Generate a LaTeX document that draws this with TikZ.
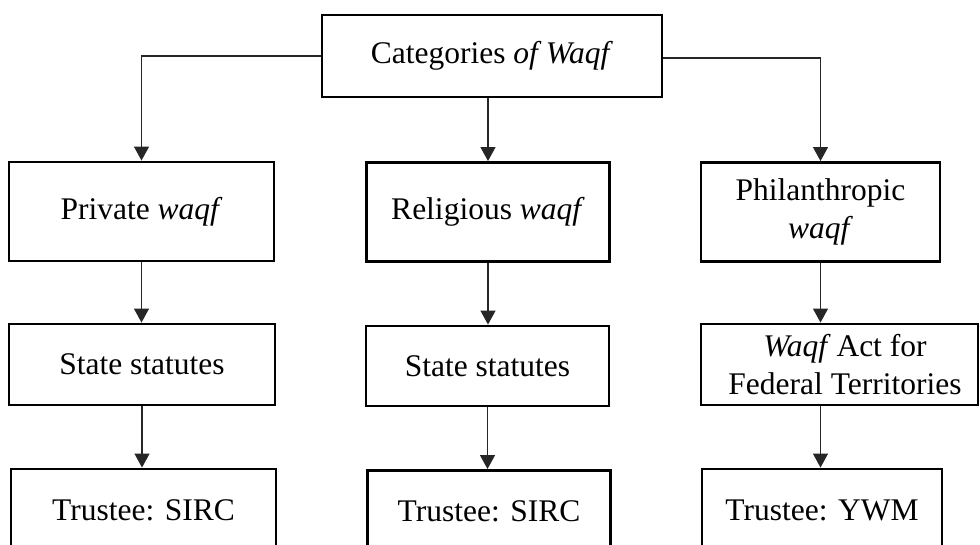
\documentclass[tikz,border=0pt]{standalone}
\usepackage{fontspec}
\setmainfont{Liberation Serif}
\usetikzlibrary{arrows.meta}
\begin{document}
\begin{tikzpicture}[x=1pt,y=-1pt,
  box/.style={draw=black,line width=2.9pt,rectangle,inner sep=0pt,
    align=center,font=\fontsize{31.5}{37.5}\selectfont},
  link/.style={draw=black!85,line width=1.3pt,
    -{Triangle[length=14pt,width=15pt]}}]
\useasboundingbox (0,0) rectangle (980,545);
\clip (0,0) rectangle (980,545);
% root
\node[box,minimum width=340pt,minimum height=82pt] (root) at (492,56)
  {Categories \textit{of Waqf}};
% categories
\node[box,minimum width=265pt,minimum height=99pt] (priv) at (141.5,211.5)
  {Private \textit{waqf}};
\node[box,minimum width=243pt,minimum height=99pt] (reli) at (488,212)
  {Religious \textit{waqf}};
\node[box,minimum width=239pt,minimum height=99pt] (phil) at (820.5,212)
  {Philanthropic\\\textit{waqf}};
% legislation
\node[box,minimum width=266pt,minimum height=81pt] (law1) at (142,364.5)
  {State statutes};
\node[box,minimum width=243pt,minimum height=80pt] (law2) at (487.5,366)
  {State statutes};
\node[box,minimum width=277pt,minimum height=81pt] (law3) at (839.5,364.5)
  {\hspace*{11pt}\textit{Waqf}\kern-2pt\ Act for\\\hspace*{11pt}Federal Territories};
% trustees
\node[box,minimum width=265pt,minimum height=82pt] (tr1) at (143.5,510)
  {Trustee: SIRC};
\node[box,minimum width=243pt,minimum height=82pt] (tr2) at (489,511.5)
  {Trustee: SIRC};
\node[box,minimum width=240pt,minimum height=82pt] (tr3) at (822,510)
  {Trustee: YWM};
% connectors from the root
\draw[link] (root.west) -- (141.5,56) -- (priv.north);
\draw[link] (root.south -| reli.north) -- (reli.north);
\draw[link] ([yshift=-2pt]root.east) -- ([yshift=-2pt]root.east -| phil.north) -- (phil.north);
% vertical chains
\draw[link] (priv.south) -- (priv.south |- law1.north);
\draw[link] (law1.south) -- (law1.south |- tr1.north);
\draw[link] (reli.south) -- (reli.south |- law2.north);
\draw[link] (law2.south) -- (law2.south |- tr2.north);
\draw[link] (phil.south) -- (phil.south |- law3.north);
\draw[link] (phil.south |- law3.south) -- (phil.south |- tr3.north);
\end{tikzpicture}
\end{document}
